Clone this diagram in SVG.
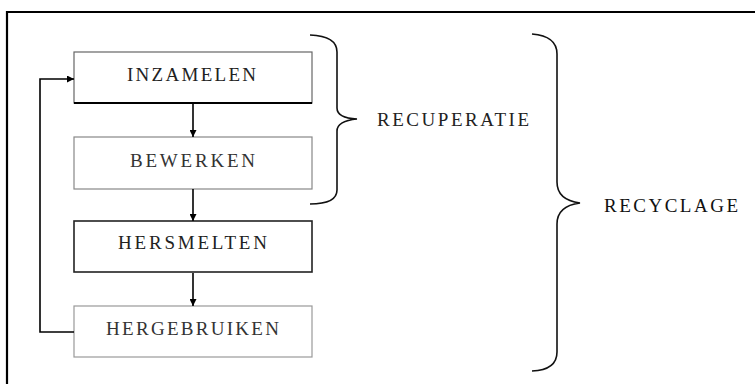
<svg xmlns="http://www.w3.org/2000/svg" width="755" height="384" viewBox="0 0 755 384">
<defs>
<marker id="ah" viewBox="0 0 10 10" refX="10" refY="5" markerWidth="7" markerHeight="7" markerUnits="userSpaceOnUse" orient="auto">
<path d="M0,0 L10,5 L0,10 z" fill="#000"/>
</marker>
<style>
.t{font-family:"Liberation Serif","Times New Roman",serif;font-size:19px;text-anchor:start}
.box{fill:#fff}
.c{fill:none;stroke:#000;stroke-width:1.6}
.br{fill:none;stroke:#111;stroke-width:1.6}
</style>
</defs>
<rect x="0" y="0" width="755" height="384" fill="#fff"/>
<path d="M7,385 V12 H756" fill="none" stroke="#000" stroke-width="2.2"/>
<g id="inzamelen">
<rect class="box" x="74" y="52" width="238" height="51" stroke="#666" stroke-width="1.2"/>
<line x1="74" y1="103" x2="312" y2="103" stroke="#000" stroke-width="2"/>
<text class="t" x="127" y="81" fill="#222" textLength="129" lengthAdjust="spacing">INZAMELEN</text>
</g>
<g id="bewerken">
<rect class="box" x="74" y="137" width="238" height="52" stroke="#888" stroke-width="1.2"/>
<text class="t" x="130" y="167" fill="#333" textLength="125" lengthAdjust="spacing">BEWERKEN</text>
</g>
<g id="hersmelten">
<rect class="box" x="74" y="221" width="238" height="51" stroke="#222" stroke-width="1.6"/>
<text class="t" x="118" y="249" fill="#222" textLength="149" lengthAdjust="spacing">HERSMELTEN</text>
</g>
<g id="hergebruiken">
<rect class="box" x="74" y="306" width="238" height="51" stroke="#999" stroke-width="1.2"/>
<text class="t" x="106" y="335" fill="#333" textLength="173" lengthAdjust="spacing">HERGEBRUIKEN</text>
</g>
<g id="connectors">
<line class="c" x1="193" y1="104" x2="193" y2="137" marker-end="url(#ah)"/>
<line class="c" x1="193" y1="189" x2="193" y2="221" marker-end="url(#ah)"/>
<line class="c" x1="193" y1="273" x2="193" y2="306" marker-end="url(#ah)"/>
<path class="c" d="M74,332 H40 V79 H74" marker-end="url(#ah)"/>
</g>
<g id="recuperatie">
<path class="br" d="M310,35 Q337,36 337,52 V108 Q337,118 357,119 Q337,121 337,131 V190 Q337,204 310,204"/>
<text class="t" x="377" y="126" fill="#222" textLength="152" lengthAdjust="spacing">RECUPERATIE</text>
</g>
<g id="recyclage">
<path class="br" d="M532,34 Q557,36 557,54 V182 Q557,200 580,203 Q557,206 557,224 V352 Q557,370 532,371"/>
<text class="t" x="604" y="212" fill="#111" textLength="134" lengthAdjust="spacing">RECYCLAGE</text>
</g>
</svg>
